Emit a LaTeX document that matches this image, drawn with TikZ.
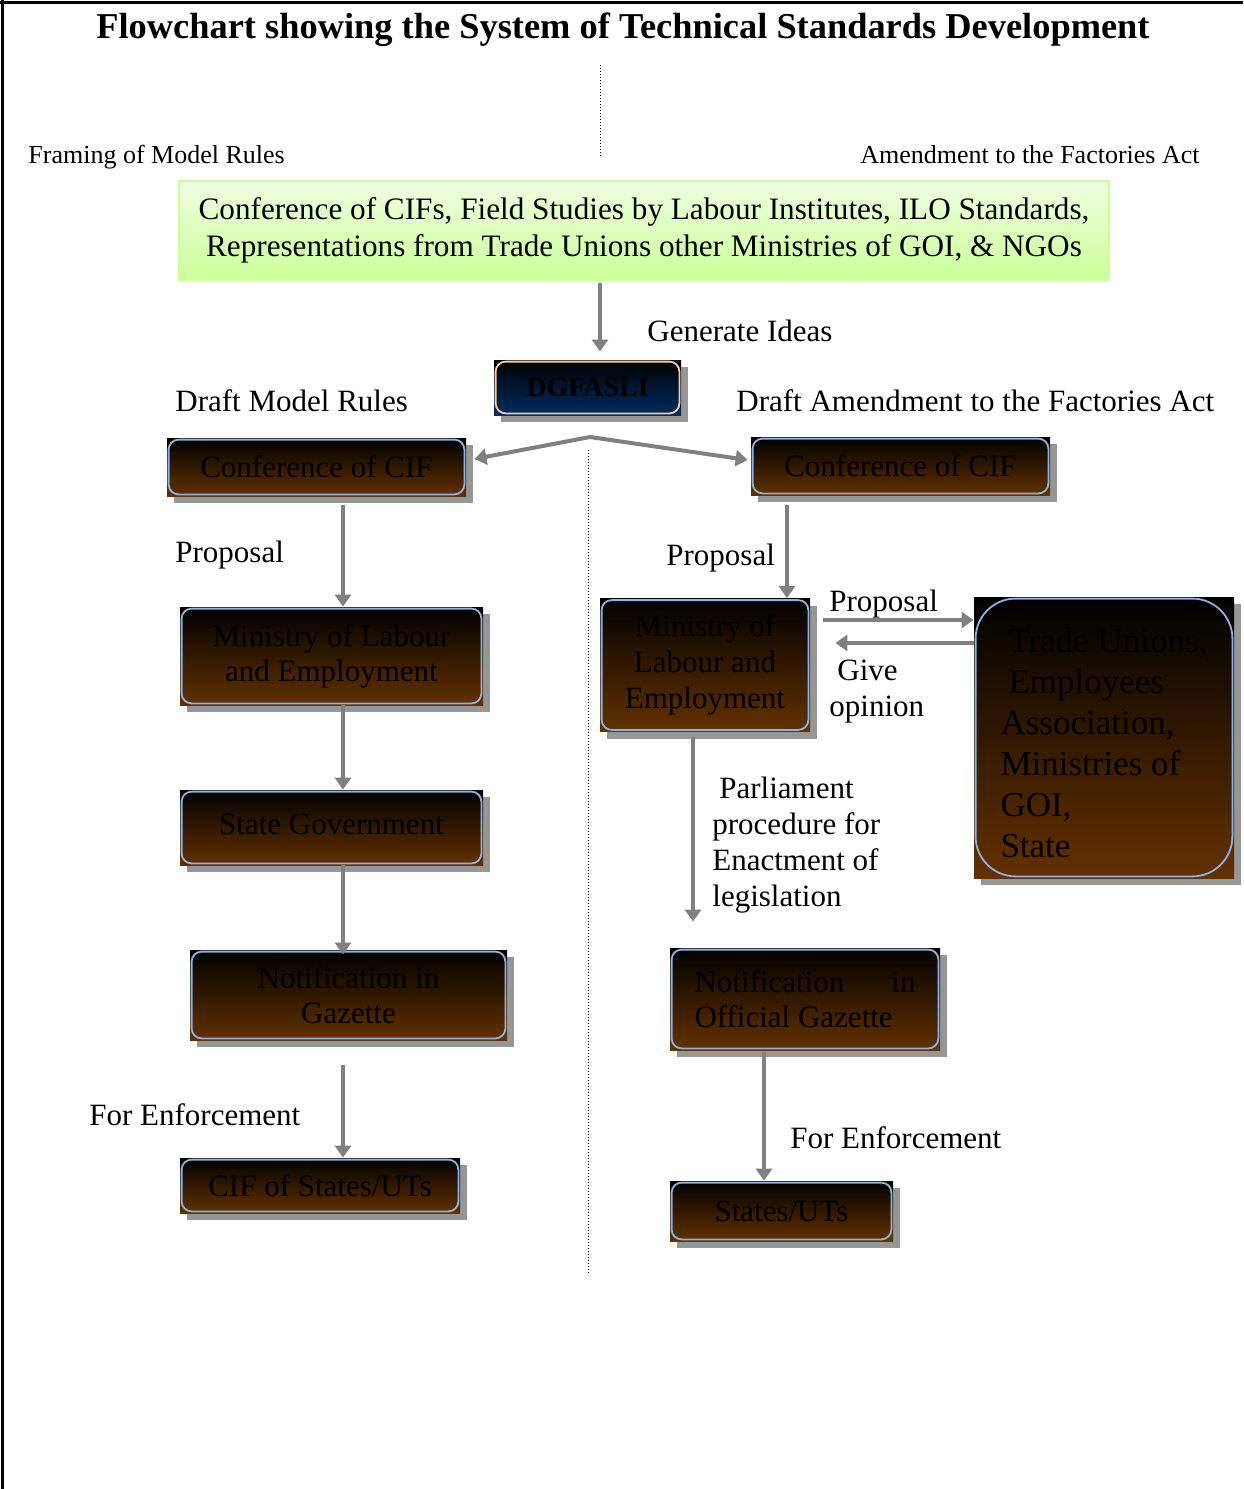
\documentclass[tikz,border=0pt]{standalone}
\usepackage{fontspec}
\setmainfont{Liberation Serif}
\usetikzlibrary{arrows.meta,shadows,calc}
\definecolor{boxbrown}{RGB}{99,49,0}
\definecolor{boxblue}{RGB}{141,180,226}
\definecolor{navy}{RGB}{0,45,98}
\definecolor{peach}{RGB}{255,204,153}
\definecolor{shgray}{RGB}{150,150,150}
\definecolor{arrgray}{RGB}{128,128,128}
\definecolor{gtop}{RGB}{238,255,225}
\definecolor{gbot}{RGB}{204,255,153}
\definecolor{gborder}{RGB}{204,255,153}
\tikzset{
  shbox/.style={drop shadow={shadow xshift=3.5pt,shadow yshift=-3.5pt,fill=shgray,opacity=1}},
  darkbox/.style={rectangle, shbox, top color=black, bottom color=boxbrown, text=black,
    align=center, inner sep=0pt, font=\fontsize{15.5pt}{17.5pt}\selectfont},
  dgbox/.style={rectangle, shbox, top color=black, bottom color=navy, text=black,
    align=center, inner sep=0pt, font=\fontsize{14pt}{16pt}\selectfont\bfseries},
  greenbox/.style={rectangle, top color=gtop, bottom color=gbot, draw=gborder, line width=1pt,
    align=center, inner sep=0pt, font=\fontsize{15.6pt}{18.5pt}\selectfont},
  rim/.style={draw=boxblue, line width=0.9pt, rounded corners=5pt},
  dgrim/.style={draw=peach, line width=0.9pt, rounded corners=5pt},
  lbl/.style={inner sep=0pt, font=\fontsize{15.5pt}{18pt}\selectfont},
  smalllbl/.style={inner sep=0pt, font=\fontsize{13pt}{15pt}\selectfont},
  titlelbl/.style={inner sep=0pt, font=\fontsize{18.2pt}{21pt}\selectfont\bfseries},
  arr/.style={draw=arrgray, line width=2pt, -{Triangle[width=8pt,length=6pt]}},
  dotline/.style={draw=black, line width=0.5pt, dash pattern=on 0.5pt off 1pt},
  frame/.style={draw=black, line width=1.5pt}
}
\begin{document}
\begin{tikzpicture}[x=0.5pt,y=-0.5pt]
\useasboundingbox (0,0) rectangle (1243,1489);
\draw[frame] (0,2) -- (1243,2);
\draw[frame] (2,0) -- (2,1489);

\node[titlelbl, anchor=base] (title) at (623,38) {Flowchart showing the System of Technical Standards Development};

\draw[dotline] (600,65) -- (600,157);
\draw[dotline] (588,450) -- (588,1273);

\node[smalllbl, anchor=base west] (framing) at (28,163) {Framing of Model Rules};
\node[smalllbl, anchor=base east] (amend) at (1200,163) {Amendment to the Factories Act};

\node[greenbox, minimum width=465pt, minimum height=49.5pt] (ideas) at (644,230.5)
  {Conference of CIFs, Field Studies by Labour Institutes, ILO Standards,\\Representations from Trade Unions other Ministries of GOI, \& NGOs};

\node[dgbox, minimum width=93.5pt, minimum height=27.5pt] (dg) at (587.5,387.5) {DGFASLI};

% left column
\node[darkbox, minimum width=149.5pt, minimum height=29pt] (confL) at (316.5,467) {Conference of CIF};
\node[darkbox, minimum width=151.5pt, minimum height=49pt] (minL) at (331.5,656) {Ministry of Labour\\and Employment};
\node[darkbox, minimum width=151.5pt, minimum height=37.5pt] (state) at (331.5,827.5) {\raisebox{3pt}{State Government}};
\node[darkbox, minimum width=158.5pt, minimum height=45pt] (notifL) at (348.5,995) {Notification in\\Gazette};
\node[darkbox, minimum width=140pt, minimum height=27.5pt] (cifS) at (320,1185.5) {CIF of States/UTs};

% right column
\node[darkbox, minimum width=149.5pt, minimum height=29pt] (confR) at (900.5,466) {Conference of CIF};
\node[darkbox, minimum width=105pt, minimum height=66.5pt, font=\fontsize{15.5pt}{17.8pt}\selectfont] (minR) at (705,665) {Ministry of\\Labour and\\Employment};
\node[darkbox, minimum width=130pt, minimum height=140.5pt, align=left,
  font=\fontsize{17.5pt}{20.5pt}\selectfont] (trade) at (1104,737.5)
  {\rule{0pt}{17.5pt}\hspace*{4pt}Trade Unions,\\\hspace*{4pt}Employees\\Association,\\Ministries of\\GOI,\\State};
\node[darkbox, minimum width=135pt, minimum height=51pt] (notifR) at (805,999)
  {\parbox{110.5pt}{\makebox[110.5pt]{Notification\hfill in}\\Official Gazette}};
\node[darkbox, minimum width=111.5pt, minimum height=30pt] (statesR) at (781.5,1211) {States/UTs};

% rims
\foreach \n in {confL,minL,state,notifL,cifS,confR,minR,notifR,statesR}
  \draw[rim] ([shift={(1pt,1pt)}]\n.south west) rectangle ([shift={(-1pt,-1pt)}]\n.north east);
\draw[rim, rounded corners=20pt] ([shift={(1pt,1pt)}]trade.south west) rectangle ([shift={(-1pt,-1pt)}]trade.north east);
\draw[dgrim] ([shift={(1pt,1pt)}]dg.south west) rectangle ([shift={(-1pt,-1pt)}]dg.north east);

% labels
\node[lbl, anchor=base west] (gen) at (647,341) {Generate Ideas};
\node[lbl, anchor=base west] (dmr) at (175,411) {Draft Model Rules};
\node[lbl, anchor=base west] (dam) at (736,411) {Draft Amendment to the Factories Act};
\node[lbl, anchor=base west] (propL) at (175,562) {Proposal};
\node[lbl, anchor=base west] (propR) at (666,565) {Proposal};
\node[lbl, anchor=base west] (propT) at (829,611) {Proposal};
\node[lbl, anchor=north west, align=left] (give) at (829,660) {\hspace*{4pt}Give\\opinion};
\node[lbl, anchor=north west, align=left] (parl) at (712,777) {\hspace*{3.5pt}Parliament\\procedure for\\Enactment of\\legislation};
\node[lbl, anchor=base west] (enfL) at (89,1125) {For Enforcement};
\node[lbl, anchor=base west] (enfR) at (790,1148) {For Enforcement};

% helper coordinates
\coordinate (x343) at (343,0);
\coordinate (x600) at (600,0);
\coordinate (x787) at (787,0);
\coordinate (x693) at (693,0);
\coordinate (x764) at (764,0);
\coordinate (y620) at (0,620);
\coordinate (y643) at (0,643);
\coordinate (split) at (590,437);

% connectors
\draw[arr] ($(ideas.south -| x600)+(0,2)$) -- ($(dg.north -| x600)+(0,-8)$);
\draw[arr] (split) -- ([shift={(4pt,4pt)}]confL.east);
\draw[arr] (split) -- ([shift={(-1.5pt,3pt)}]confR.west);
\draw[arr] ($(confL.south -| x343)+(0,9)$) -- (minL.north -| x343);
\draw[arr] (minL.south -| x343) -- (state.north -| x343);
\draw[arr] (state.south -| x343) -- ($(notifL.north -| x343)+(0,5)$);
\draw[arr] ($(notifL.south -| x343)+(0,25)$) -- (cifS.north -| x343);
\draw[arr] ($(confR.south -| x787)+(0,10)$) -- (minR.north -| x787);
\draw[arr] ($(minR.south -| x693)+(0,5)$) -- ($(notifR.north -| x693)+(0,-26)$);
\draw[arr] ($(notifR.south -| x764)+(0,2)$) -- (statesR.north -| x764);
\draw[arr] ($(minR.east |- y620)+(13,0)$) -- (trade.west |- y620);
\draw[arr] (trade.west |- y643) -- ($(minR.east |- y643)+(25,0)$);
\end{tikzpicture}
\end{document}
